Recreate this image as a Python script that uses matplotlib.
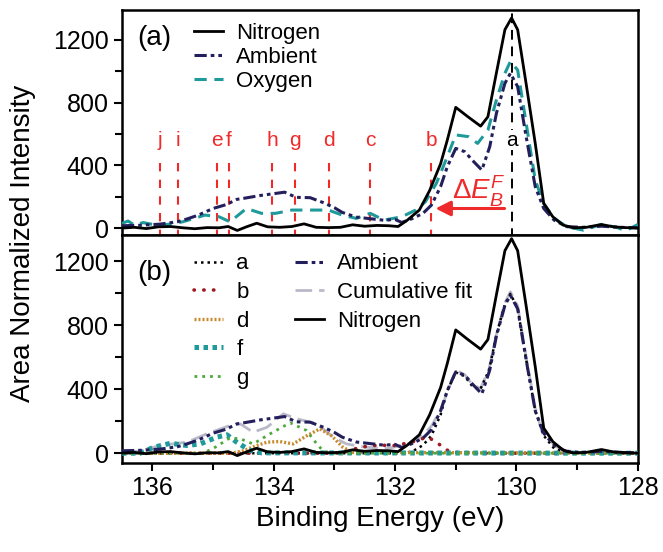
import numpy as np
import matplotlib
matplotlib.use("Agg")
import matplotlib.pyplot as plt
from matplotlib.ticker import MultipleLocator

plt.rcParams['font.family'] = ['Liberation Sans', 'DejaVu Sans']
plt.rcParams['mathtext.fontset'] = 'custom'
plt.rcParams['mathtext.rm'] = 'Liberation Sans'
plt.rcParams['mathtext.it'] = 'Liberation Sans:italic'

# Nitrogen spectrum (same in both panels)
e_nit = [136.5, 136.3, 136.1, 135.9, 135.7, 135.5, 135.3, 135.1, 134.9, 134.75, 134.6, 134.45,
         134.28, 134.1, 133.9, 133.7, 133.5, 133.3, 133.1, 132.9, 132.7, 132.5, 132.3, 132.1,
         131.95, 131.8, 131.6, 131.43, 131.25, 131.14, 131.0, 130.8, 130.59, 130.47, 130.33,
         130.19, 130.08, 129.98, 129.84, 129.69, 129.55, 129.4, 129.23, 129.06, 128.85, 128.6,
         128.4, 128.2, 128.0]
i_nit = [0, 5, -3, 8, 10, 2, -4, 3, 2, 10, -15, 8,
         31, 8, 5, 10, 27, 5, 3, 5, 21, 12, 17, 15,
         10, 50, 115, 240, 410, 560, 770, 710, 650, 710, 990,
         1265, 1340, 1265, 920, 540, 157, 72, 19, 2, 5, 23,
         8, 3, 0]

# Ambient spectrum (same in both panels)
e_amb = [136.5, 136.2, 135.88, 135.59, 135.43, 135.24, 135.0, 134.78, 134.61, 134.49, 134.22,
         133.97, 133.82, 133.63, 133.4, 133.18, 133.0, 132.87, 132.64, 132.41, 132.18, 132.0,
         131.89, 131.72, 131.54, 131.4, 131.25, 131.14, 131.0, 130.85, 130.73, 130.57, 130.44,
         130.33, 130.19, 130.1, 129.98, 129.84, 129.69, 129.55, 129.38, 129.17, 128.9, 128.6,
         128.3, 128.0]
i_amb = [15, 18, 25, 40, 58, 83, 125, 150, 183, 190, 208,
         221, 229, 196, 194, 162, 130, 100, 70, 60, 50, 55,
         36, 60, 94, 147, 264, 391, 508, 487, 434, 370, 519,
         732, 923, 987, 902, 583, 264, 125, 51, 9, 5, 12,
         5, 2]

# Oxygen spectrum (top panel)
e_oxy = [136.5, 136.4, 136.3, 136.15, 135.88, 135.5, 135.13, 134.9, 134.72, 134.45, 134.2,
         133.97, 133.7, 133.34, 133.1, 132.87, 132.64, 132.41, 132.18, 131.89, 131.66, 131.5,
         131.32, 131.14, 131.0, 130.79, 130.64, 130.47, 130.33, 130.19, 130.1, 129.98, 129.84,
         129.69, 129.55, 129.38, 129.17, 128.9, 128.6, 128.35, 128.2, 128.0]
i_oxy = [30, 45, 20, 35, 15, 40, 83, 72, 40, 125, 94,
         94, 115, 115, 115, 83, 62, 94, 51, 72, 115, 168,
         285, 455, 594, 583, 540, 625, 817, 987, 1062, 1008, 668,
         306, 157, 62, 9, -13, 23, 5, -17, 23]

# fit components (bottom panel)
e_a = [136.5, 131.9, 131.72, 131.54, 131.4, 131.25, 131.14, 131.0, 130.85, 130.73, 130.6, 130.45,
       130.33, 130.19, 130.1, 129.98, 129.84, 129.69, 129.55, 129.38, 129.2, 129.0, 128.0]
i_a = [0, 0, 10, 50, 110, 240, 390, 505, 480, 420, 395, 520,
       740, 930, 995, 905, 585, 265, 110, 30, 5, 0, 0]

e_b = [136.5, 133.0, 132.8, 132.58, 132.3, 131.98, 131.7, 131.46, 131.29, 131.14, 131.0, 130.8, 128.0]
i_b = [0, 0, 10, 37, 50, 48, 72, 102, 60, 19, 5, 0, 0]

e_d = [136.5, 134.7, 134.5, 134.3, 134.11, 133.9, 133.68, 133.45, 133.24, 133.05, 132.86, 132.7, 128.0]
i_d = [0, 0, 15, 45, 69, 73, 58, 110, 152, 110, 37, 5, 0]

e_f = [136.5, 136.2, 135.98, 135.7, 135.43, 135.21, 134.94, 134.77, 134.61, 134.39, 134.2, 128.0]
i_f = [0, 0, 37, 62, 48, 58, 100, 115, 69, 17, 2, 0]

e_g = [136.5, 135.16, 134.95, 134.72, 134.55, 134.34, 134.06, 133.73, 133.46, 133.29, 133.18, 133.0, 128.0]
i_g = [0, 0, 40, 96, 90, 58, 121, 190, 142, 58, 12, 0, 0]

e_cum = [136.5, 136.2, 135.87, 135.43, 135.1, 134.72, 134.55, 134.34, 134.11, 133.84, 133.62,
         133.29, 133.02, 132.8, 132.5, 132.12, 131.77, 131.54, 131.4, 131.25, 131.1, 131.0,
         130.85, 130.73, 130.59, 130.45, 130.33, 130.19, 130.1, 129.98, 129.84, 129.69, 129.57,
         129.34, 129.06, 128.5, 128.0]
i_cum = [0, 15, 48, 69, 121, 173, 183, 131, 162, 246, 215,
         183, 100, 58, 38, 29, 60, 112, 170, 269, 420, 519,
         490, 430, 404, 530, 740, 940, 1008, 920, 600, 280, 123,
         40, 5, 0, 0]

# peak markers (top panel)
mark_labels = ['j', 'i', 'e', 'f', 'h', 'g', 'd', 'c', 'b']
mark_pos = [135.88, 135.57, 134.94, 134.74, 134.02, 133.65, 133.09, 132.41, 131.40]
a_pos = 130.08

red = '#ee2a2a'
navy = '#231f5c'
teal = '#1f9a9a'
amb_ls = (0, (4, 1.3, 1.2, 1.3, 1.2, 1.3))

fig = plt.figure(figsize=(6.63, 5.52), dpi=100)
ax1 = fig.add_axes([0.184, 0.574, 0.778, 0.408])
ax2 = fig.add_axes([0.184, 0.161, 0.778, 0.413])

# top panel
ax1.plot(e_nit, i_nit, color='black', lw=2, label='Nitrogen', zorder=5)
ax1.plot(e_amb, i_amb, color=navy, lw=2.2, ls=amb_ls, label='Ambient', zorder=4)
ax1.plot(e_oxy, i_oxy, color=teal, lw=2.2, ls=(0, (4, 2.5)), label='Oxygen', zorder=3)

for lab, x in zip(mark_labels, mark_pos):
    ax1.plot([x, x], [-60, 445], color=red, lw=1.5, ls=(0, (4, 4)), zorder=2)
    ax1.text(x, 560, lab, color=red, fontsize=15, ha='center', va='center')
ax1.plot([a_pos, a_pos], [-60, 1400], color='black', lw=1.4, ls=(0, (5, 3.5)), zorder=6)
ax1.text(a_pos, 560, 'a', color='black', fontsize=15, ha='center', va='center', zorder=7,
         bbox=dict(facecolor='white', edgecolor='none', pad=0.5))

ax1.annotate('', xy=(131.38, 125), xytext=(130.15, 125),
             arrowprops=dict(arrowstyle='-|>,head_length=0.9,head_width=0.45', color=red, lw=2.2),
             zorder=8)
ax1.text(130.62, 232, r'$\Delta E_B^F$', color=red, fontsize=20, ha='center', va='center', zorder=8)

ax1.text(0.03, 0.875, '(a)', transform=ax1.transAxes, fontsize=20, va='center')
ax1.legend(loc='upper left', bbox_to_anchor=(0.14, 0.944), frameon=False, fontsize=16,
           handlelength=1.3, handletextpad=0.6, labelspacing=0.15, borderpad=0, borderaxespad=0)
ax1.set_ylim(-45, 1391)
ax1.tick_params(labelbottom=False)

# bottom panel
h_a, = ax2.plot(e_a, i_a, color='black', lw=1.8, ls=(0, (1, 1.6)), label='a', zorder=3)
h_b, = ax2.plot(e_b, i_b, color='#9e1b22', lw=2.6, ls=(0, (0.1, 2.6)), dash_capstyle='round', label='b', zorder=3)
h_d, = ax2.plot(e_d, i_d, color='#c98a2e', lw=2.4, ls=(0, (0.6, 0.6)), label='d', zorder=3)
h_f, = ax2.plot(e_f, i_f, color=teal, lw=3.6, ls=(0, (0.9, 0.9)), label='f', zorder=3)
h_g, = ax2.plot(e_g, i_g, color='#4ea83c', lw=2.0, ls=(0, (1, 1.8)), label='g', zorder=3)
h_amb, = ax2.plot(e_amb, i_amb, color=navy, lw=2.2, ls=amb_ls, label='Ambient', zorder=4)
h_cum, = ax2.plot(e_cum, i_cum, color='#b9b9c9', lw=2.0, ls=(0, (6, 2.5)), label='Cumulative fit', zorder=2)
h_nit, = ax2.plot(e_nit, i_nit, color='black', lw=2, label='Nitrogen', zorder=5)

ax2.text(0.03, 0.833, '(b)', transform=ax2.transAxes, fontsize=20, va='center')
leg1 = ax2.legend(handles=[h_a, h_b, h_d, h_f, h_g], loc='upper left', bbox_to_anchor=(0.14, 0.92),
                  frameon=False, fontsize=16, handlelength=1.3, handletextpad=0.6, labelspacing=0.34,
                  borderpad=0, borderaxespad=0)
ax2.add_artist(leg1)
ax2.legend(handles=[h_amb, h_cum, h_nit], loc='upper left', bbox_to_anchor=(0.335, 0.92),
           frameon=False, fontsize=16, handlelength=1.3, handletextpad=0.6, labelspacing=0.34,
           borderpad=0, borderaxespad=0)
ax2.set_ylim(-62, 1362)
ax2.set_xlabel('Binding Energy (eV)', fontsize=20)
fig.text(0.035, 0.56, 'Area Normalized Intensity', rotation=90, fontsize=20, ha='center', va='center')

for ax in (ax1, ax2):
    ax.set_xlim(136.5, 128)
    ax.xaxis.set_major_locator(MultipleLocator(2))
    ax.xaxis.set_minor_locator(MultipleLocator(1))
    ax.yaxis.set_major_locator(MultipleLocator(400))
    ax.yaxis.set_minor_locator(MultipleLocator(200))
    ax.tick_params(which='both', direction='out', top=False, right=False, labelsize=18, width=1.5)
    ax.tick_params(which='major', length=6)
    ax.tick_params(which='minor', length=5)
    for s in ax.spines.values():
        s.set_linewidth(1.8)

fig.savefig('out.png', dpi=100)
